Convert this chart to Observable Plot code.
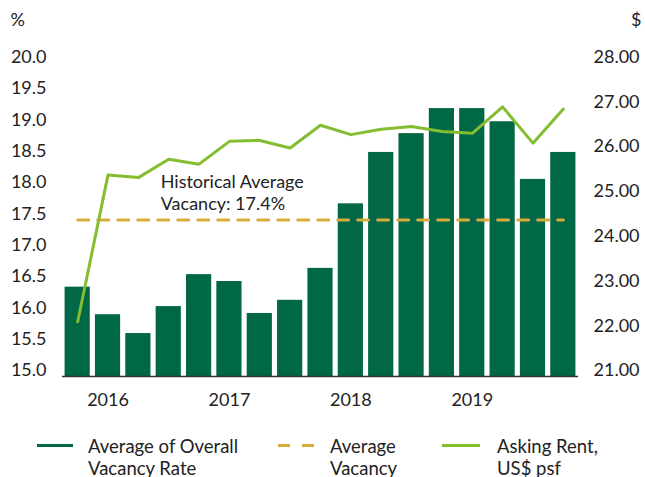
<!DOCTYPE html>
<html>
<head>
<meta charset="utf-8">
<script src="https://cdn.jsdelivr.net/npm/d3@7"></script>
<script src="https://cdn.jsdelivr.net/npm/@observablehq/plot@0.6"></script>
<style>
  body { margin: 0; background: #fff; font-family: Lato, "Open Sans", sans-serif; color: #222; }
  #wrap { position: relative; width: 645px; height: 477px; overflow: hidden; }
  .leg { position: absolute; top: 436px; font-size: 18.5px; line-height: 21.5px; color: #222; white-space: nowrap; }
  .sw { position: absolute; top: 444px; height: 3px; }
</style>
</head>
<body>
<div id="wrap">
  <div id="chart"></div>
  <div class="sw" style="left:37px;width:36px;background:#006747"></div>
  <div class="leg" style="left:88px">Average of Overall<br>Vacancy Rate</div>
  <div class="sw" style="left:278px;width:36px;background:repeating-linear-gradient(to right,#d9ac3a 0 12px,transparent 12px 24px)"></div>
  <div class="leg" style="left:330px">Average<br>Vacancy</div>
  <div class="sw" style="left:442px;width:38px;background:#84bd2f"></div>
  <div class="leg" style="left:497px">Asking Rent,<br>US$ psf</div>
</div>
<script>
const quarters = ["2015Q4","2016Q1","2016Q2","2016Q3","2016Q4","2017Q1","2017Q2","2017Q3","2017Q4",
                  "2018Q1","2018Q2","2018Q3","2018Q4","2019Q1","2019Q2","2019Q3","2019Q4"];
const vacancy = [16.33, 15.89, 15.59, 16.02, 16.53, 16.42, 15.91, 16.12, 16.63,
                 17.66, 18.48, 18.78, 19.18, 19.18, 18.97, 18.05, 18.48];
const askingRent = [22.09, 25.37, 25.31, 25.72, 25.61, 26.12, 26.14, 25.97, 26.48,
                    26.27, 26.39, 26.45, 26.34, 26.30, 26.89, 26.08, 26.84];
const historicalAverage = 17.4;
const yearTicks = ["2016Q1","2017Q1","2018Q1","2019Q1"];
const yearLabels = ["2016","2017","2018","2019"];
const leftTicks = [15,15.5,16,16.5,17,17.5,18,18.5,19,19.5,20];
const rightTicks = [21,22,23,24,25,26,27,28];

// map rent ($21–$28) onto the vacancy axis (15–20%)
const rentToY = r => 15 + (r - 21) * 5 / 7;

const bars = quarters.map((q, i) => ({q, v: vacancy[i]}));
const rent = quarters.map((q, i) => ({q, r: rentToY(askingRent[i])}));
const avg = quarters.map(q => ({q, v: historicalAverage}));

const chart = Plot.plot({
  width: 645,
  height: 420,
  marginLeft: 62,
  marginRight: 67,
  marginTop: 56.7,
  marginBottom: 50,
  style: {fontFamily: "Lato, 'Open Sans', sans-serif", fontSize: "18px", color: "#222"},
  x: {domain: quarters, paddingInner: 0.17, paddingOuter: 0.085, round: false},
  y: {domain: [15, 20]},
  marks: [
    Plot.barY(bars, {x: "q", y1: 15, y2: "v", fill: "#006747", insetBottom: -6}),
    Plot.ruleY([15], {stroke: "#333", strokeWidth: 1.5, dy: 6}),
    Plot.line(avg, {x: "q", y: "v", stroke: "#d9ac3a", strokeWidth: 3, strokeDasharray: "11,9"}),
    Plot.line(rent, {x: "q", y: "r", stroke: "#84bd2f", strokeWidth: 3}),
    Plot.text(["Historical Average\nVacancy: 17.4%"], {x: () => "2016Q3", y: 17.85, text: d => d, textAnchor: "start", dx: -8, lineHeight: 1.2, fill: "#222", fontSize: 18}),
    Plot.axisX({ticks: yearTicks, tickFormat: d => yearLabels[yearTicks.indexOf(d)], tickSize: 0, tickPadding: 23, fontSize: 18, label: null}),
    Plot.axisY({anchor: "left", ticks: leftTicks, tickFormat: d => d.toFixed(1), tickSize: 0, tickPadding: 16, label: null, fontSize: 18}),
    Plot.axisY({anchor: "right", ticks: rightTicks.map(rentToY), tickFormat: d => (21 + (d - 15) * 7 / 5).toFixed(2), tickSize: 0, tickPadding: 15, label: null, fontSize: 18}),
    Plot.text(["%"], {frameAnchor: "top-left", dx: -52, dy: -44, text: d => d, textAnchor: "start", fontSize: 18, fill: "#222"}),
    Plot.text(["$"], {frameAnchor: "top-right", dx: 63, dy: -44, text: d => d, textAnchor: "end", fontSize: 18, fill: "#222"})
  ]
});
document.getElementById("chart").appendChild(chart);
</script>
</body>
</html>
